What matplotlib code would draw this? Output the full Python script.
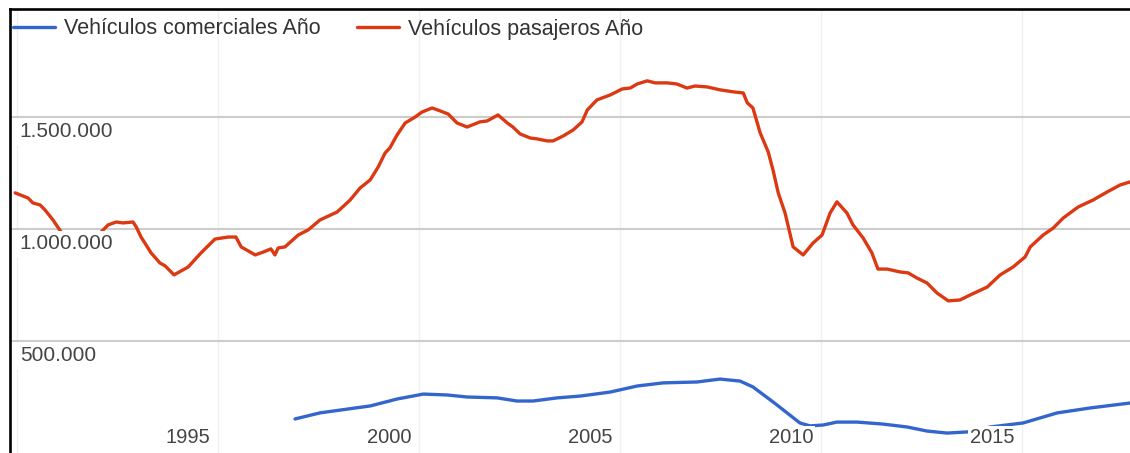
import numpy as np
import matplotlib
matplotlib.use('Agg')
import matplotlib.pyplot as plt

plt.rcParams['font.family'] = ['Liberation Sans', 'DejaVu Sans']

# Vehículos pasajeros, total anual móvil (año con decimales)
anio_pasajeros = [1990.70, 1991.02, 1991.14, 1991.32, 1991.44, 1991.64, 1991.84, 1992.01, 1992.20,
                  1992.50, 1992.70, 1992.84, 1993.01,
                  1993.21, 1993.38, 1993.63, 1993.71, 1993.83, 1994.08, 1994.30, 1994.43, 1994.65,
                  1995.00, 1995.32, 1995.67, 1996.00, 1996.19, 1996.32, 1996.67, 1996.87, 1997.06,
                  1997.16, 1997.24, 1997.41, 1997.74, 1997.99, 1998.28, 1998.71, 1999.03, 1999.28,
                  1999.53, 1999.73, 1999.90, 2000.02, 2000.20, 2000.40, 2000.65, 2000.82, 2001.07,
                  2001.27, 2001.47, 2001.69, 2001.94, 2002.26, 2002.44, 2002.71, 2002.94, 2003.08,
                  2003.26, 2003.51, 2003.68, 2003.93, 2004.08, 2004.33, 2004.58, 2004.80, 2004.93,
                  2005.17, 2005.50, 2005.80, 2006.00, 2006.17, 2006.42, 2006.62, 2006.92, 2007.16,
                  2007.41, 2007.61, 2007.91, 2008.23, 2008.56, 2008.81, 2008.91, 2009.05, 2009.23,
                  2009.43, 2009.55, 2009.68, 2009.85, 2010.05, 2010.30, 2010.55, 2010.77, 2010.97,
                  2011.14, 2011.39, 2011.54, 2011.79, 2012.01, 2012.16, 2012.39, 2012.71, 2012.91,
                  2013.13, 2013.38, 2013.63, 2013.91, 2014.20, 2014.45, 2014.88, 2015.20, 2015.52,
                  2015.82, 2015.95, 2016.27, 2016.52, 2016.77, 2017.14, 2017.51, 2017.86, 2018.18,
                  2018.43]
pasajeros = [1161000, 1138000, 1116000, 1107000, 1085000, 1040000, 987000, 955000, 928000,
             920000, 945000, 987000, 1018000,
             1031000, 1027000, 1031000, 1009000, 964000, 893000, 848000, 835000, 795000,
             830000, 893000, 955000, 964000, 964000, 920000, 884000, 897000, 911000,
             884000, 915000, 920000, 973000, 996000, 1040000, 1076000, 1129000, 1183000,
             1219000, 1277000, 1339000, 1362000, 1420000, 1473000, 1500000, 1522000, 1540000,
             1527000, 1513000, 1473000, 1455000, 1478000, 1482000, 1509000, 1473000, 1455000,
             1424000, 1406000, 1402000, 1393000, 1393000, 1415000, 1442000, 1478000, 1531000,
             1576000, 1598000, 1625000, 1629000, 1647000, 1661000, 1652000, 1652000, 1647000,
             1629000, 1638000, 1634000, 1621000, 1612000, 1607000, 1563000, 1540000, 1429000,
             1344000, 1263000, 1161000, 1071000, 920000, 884000, 938000, 973000, 1071000,
             1121000, 1071000, 1018000, 960000, 893000, 821000, 821000, 808000, 804000,
             781000, 759000, 714000, 679000, 683000, 705000, 741000, 795000, 830000,
             875000, 920000, 973000, 1004000, 1049000, 1098000, 1129000, 1165000, 1196000,
             1210000]

# Vehículos comerciales
anio_comerciales = [1997.66, 1998.28, 1998.96, 1999.53, 2000.20, 2000.85, 2001.44, 2001.94, 2002.69,
                    2003.18, 2003.58, 2004.18, 2004.75, 2005.50, 2006.17, 2006.82, 2007.66, 2008.23,
                    2008.73, 2009.05, 2009.55, 2009.90, 2010.22, 2010.47, 2010.80, 2011.14, 2011.64,
                    2012.29, 2012.89, 2013.38, 2013.88, 2014.38, 2014.95, 2015.77, 2016.62, 2017.44,
                    2018.43]
comerciales = [152000, 179000, 196000, 210000, 241000, 263000, 259000, 250000, 246000,
               232000, 232000, 246000, 254000, 272000, 299000, 313000, 317000, 330000,
               321000, 295000, 228000, 179000, 134000, 121000, 125000, 138000, 138000,
               129000, 116000, 98000, 89000, 94000, 116000, 134000, 179000, 201000,
               223000]

series = ['Vehículos comerciales Año', 'Vehículos pasajeros Año']
anios_eje = [1995, 2000, 2005, 2010, 2015]
valores_y = [500000, 1000000, 1500000]
etiquetas_y = ['500.000', '1.000.000', '1.500.000']

W, H = 1130, 453
fig = plt.figure(figsize=(W / 100, H / 100), dpi=100)
izq, arriba = 10, 8.5
ax = fig.add_axes([izq / W, 0, 1 - izq / W, 1 - arriba / H])

ax.plot(anio_comerciales, comerciales, color='#3366cc', lw=2.4, label=series[0],
        solid_capstyle='round', solid_joinstyle='round', zorder=3)
ax.plot(anio_pasajeros, pasajeros, color='#dc3912', lw=2.4, label=series[1],
        solid_capstyle='round', solid_joinstyle='round', zorder=3)

ax.set_xlim(1990.57, 2018.43)
ax.set_ylim(0, 1984000)

# líneas de cuadrícula
ax.set_yticks(valores_y)
ax.set_yticklabels([])
ax.set_xticks([a - 4.25 for a in anios_eje] + [anios_eje[-1] + 0.75])
ax.set_xticklabels([])
ax.tick_params(length=0)
ax.yaxis.grid(True, color='#cccccc', lw=1.5)
ax.xaxis.grid(True, color='#f0f0f0', lw=1.0)
ax.set_axisbelow(True)

for lado in ['right', 'bottom']:
    ax.spines[lado].set_visible(False)
for lado in ['left', 'top']:
    ax.spines[lado].set_color('black')
    ax.spines[lado].set_linewidth(1.9)

fondo = dict(facecolor='white', edgecolor='none', pad=2.5)

# etiquetas del eje y, dentro del gráfico
for v, t in zip(valores_y, etiquetas_y):
    ax.annotate(t, xy=(0, v), xycoords=('axes fraction', 'data'), xytext=(7.0, -10.8),
                textcoords='offset points', ha='left', va='center', fontsize=15,
                color='#444444', bbox=fondo, zorder=5)

# etiquetas del eje x
for a in anios_eje:
    ax.annotate(str(a), xy=(a, 0), xycoords=('data', 'axes fraction'), xytext=(0, 11.2),
                textcoords='offset points', ha='center', va='center', fontsize=14.5,
                color='#444444', bbox=dict(facecolor='white', edgecolor='none', pad=1.5),
                zorder=5)

ax.legend(loc='center left', bbox_to_anchor=(3 / 1120, 1 - 20.5 / 444.5), ncol=2,
          frameon=False, fontsize=15.5, handlelength=1.96, handletextpad=0.42,
          columnspacing=1.68, borderaxespad=0, borderpad=0, labelcolor='#333333')

fig.savefig('out.png', dpi=100)
